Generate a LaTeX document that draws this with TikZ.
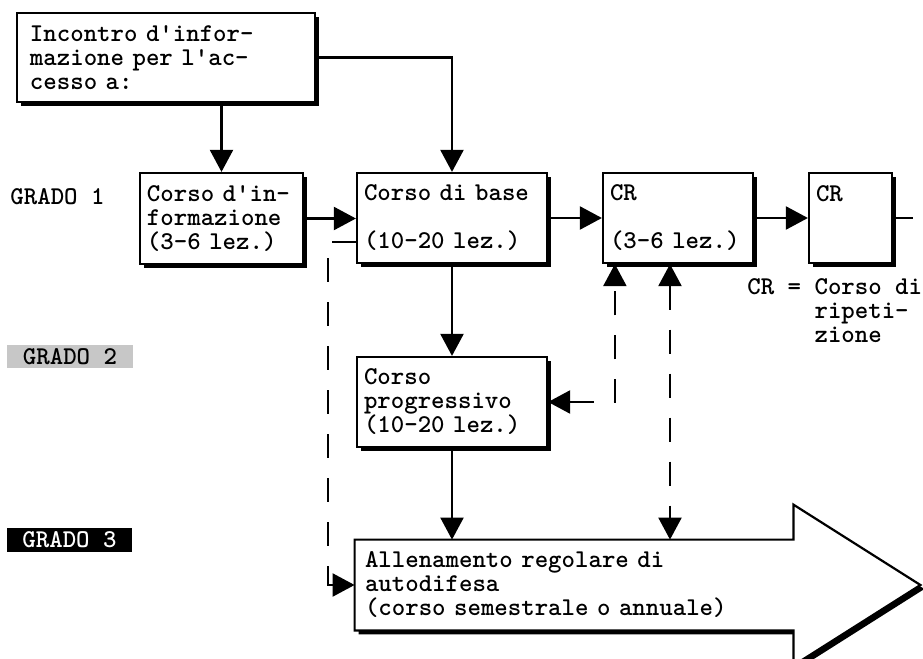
\documentclass[tikz,border=0pt]{standalone}
\usepackage{tikz}
\usetikzlibrary{arrows.meta, shadows, backgrounds}
\tikzset{
  corso/.style={draw, fill=white, line width=1.1pt, align=left, inner xsep=3.5pt,
    general shadow={fill=black, shadow xshift=2pt, shadow yshift=-2pt}},
  freccia/.style={line width=1.1pt, ->},
  tratteggio/.style={line width=1.1pt, dash pattern=on 12pt off 10pt},
}

\begin{document}
\begin{tikzpicture}[x=0.5pt, y=-0.5pt, >={Triangle[length=11pt,width=11.5pt]},
    font=\ttfamily\bfseries\fontsize{12.8}{12}\selectfont]
    \useasboundingbox (0,0) rectangle (923,659);

    \node[corso, minimum width=149pt, minimum height=44.5pt, text width=136pt, inner xsep=6.5pt]
        (incontro) at (166,57.5) {Incontro d'infor-\\mazione per l'ac-\\cesso a:};
    \node[corso, minimum width=81.5pt, minimum height=45.5pt, text width=74.5pt]
        (informa) at (221.5,218.5) {Corso d'in-\\formazione\\(3-6 lez.)};
    \node[corso, minimum width=95pt, minimum height=45pt, text width=88pt]
        (base) at (452,218) {Corso di base\\\mbox{}\\(10-20 lez.)};
    \node[corso, minimum width=75pt, minimum height=45pt, text width=68pt]
        (ripeti) at (678,218) {CR\\\mbox{}\\(3-6 lez.)};
    \node[corso, minimum width=41.5pt, minimum height=45pt, text width=34.5pt]
        (ripeti2) at (850.5,218) {CR\\\mbox{}\\\mbox{}};
    \node[corso, minimum width=95pt, minimum height=45pt, text width=88pt]
        (progr) at (452,402) {Corso\\progressivo\\(10-20 lez.)};
    \node[align=left, minimum width=219pt, minimum height=45pt, text width=209pt, inner xsep=5pt]
        (allena) at (574,585) {Allenamento regolare di\\autodifesa\\(corso semestrale o annuale)};

    \begin{scope}[on background layer]
        \draw[line width=1.1pt, fill=white, general shadow={fill=black, shadow xshift=2pt, shadow yshift=-2pt}]
            (allena.north west) -- (allena.north east) -- ++(0pt,17.5pt)
            -- ([xshift=63.5pt]allena.east) -- ([yshift=-17.5pt]allena.south east)
            -- (allena.south east) -- (allena.south west) -- cycle;
    \end{scope}

    \node (grado1) at (57.5,197) {GRADO 1};
    \node[fill=black!22, minimum width=63pt, minimum height=11.5pt, inner sep=0pt]
        (grado2) at (70,356.5) {GRADO 2};
    \node[fill=black, text=white, minimum width=62.5pt, minimum height=12pt, inner sep=0pt]
        (grado3) at (69.5,540) {GRADO 3};
    \node[anchor=north west, inner sep=0pt, align=left]
        (legenda) at (747,278) {CR = Corso di\\\hphantom{CR = }ripeti-\\\hphantom{CR = }zione};

    \coordinate (coda) at (913,218);
    \draw[freccia] (incontro.south -| informa.north) -- (informa.north);
    \draw[freccia] (incontro.east) -| (base.north);
    \draw[freccia] (informa.east) -- (informa.east -| base.west);
    \draw[freccia] (base.east) -- (ripeti.west);
    \draw[freccia] (ripeti.east) -- (ripeti2.west);
    \draw[line width=1.1pt] (ripeti2.east) -- (coda);
    \draw[freccia] (base.south) -- (progr.north);
    \draw[freccia] (progr.south) -- (progr.south |- allena.north);
    \draw[tratteggio, ->] ([yshift=-12pt]base.west) -- ++(-14pt,0) |- (allena.west);
    \draw[tratteggio, <->] (progr.east) -| ([xshift=6.5pt]ripeti.south west);
    \draw[tratteggio, <->] ([xshift=-4pt]ripeti.south) -- ([xshift=-4pt]ripeti.south |- allena.north);
\end{tikzpicture}
\end{document}
